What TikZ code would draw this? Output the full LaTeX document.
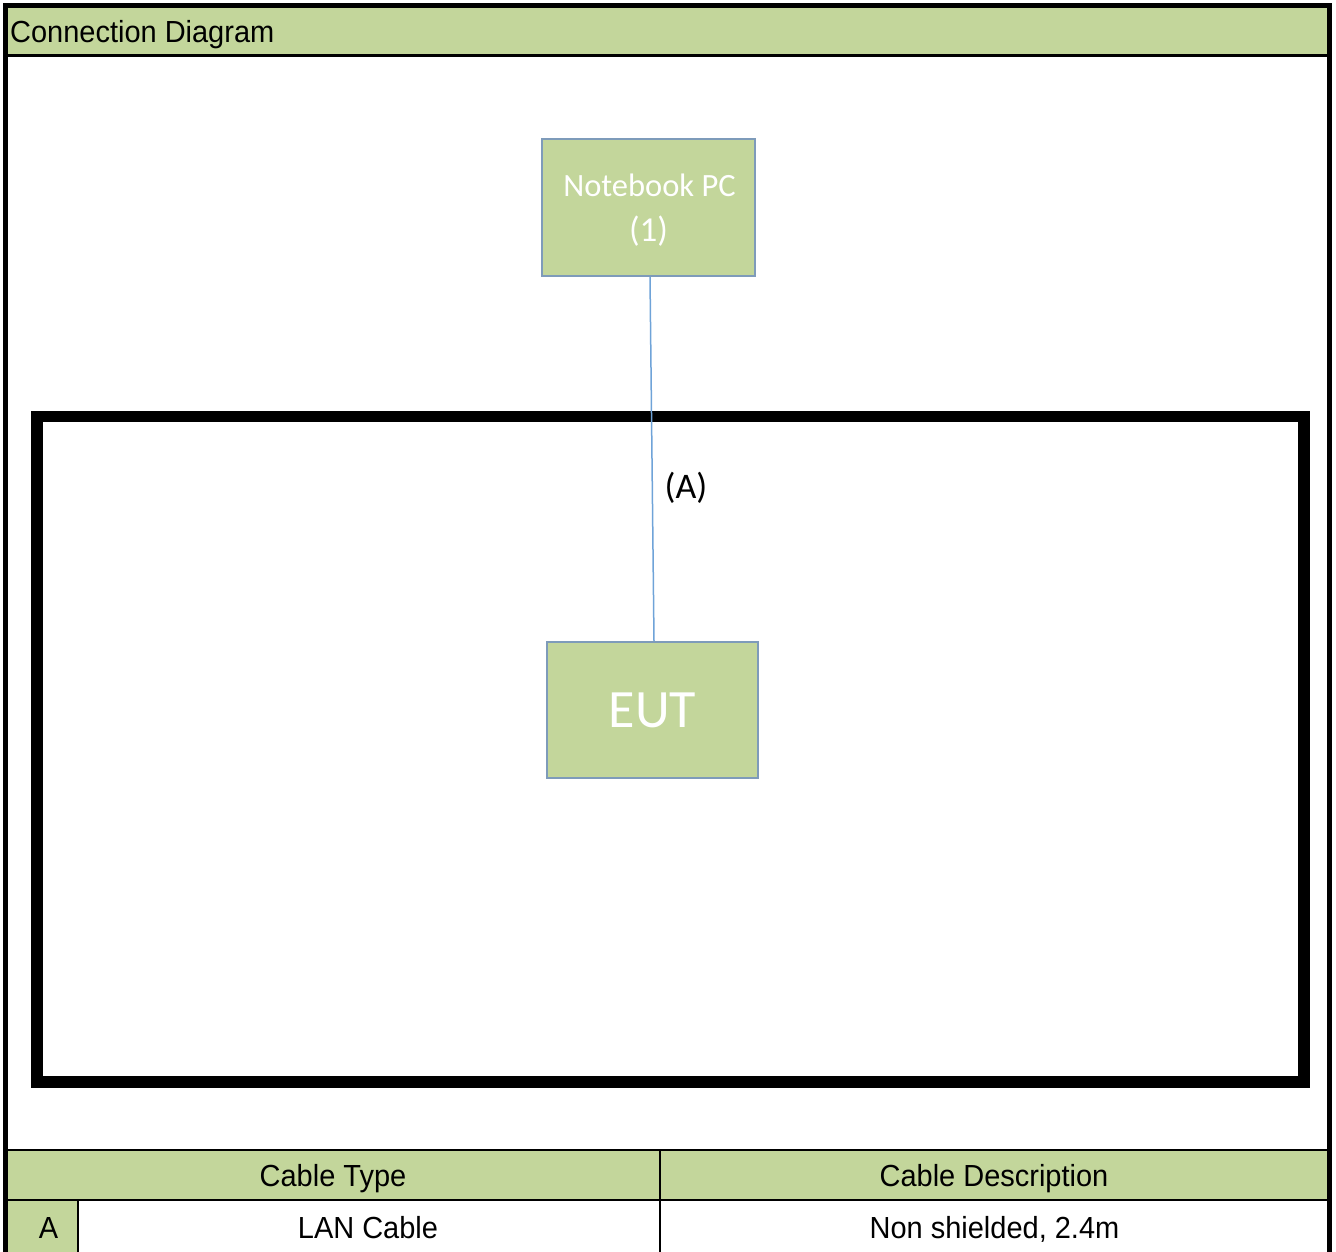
\documentclass[tikz,border=0pt]{standalone}
\usepackage{fontspec}
\usepackage{graphicx}
\setmainfont{Liberation Sans}
\newfontfamily\calfont{Carlito}
\definecolor{hdrgreen}{HTML}{C3D69B}
\definecolor{boxedge}{HTML}{7E9BBA}
\definecolor{cable}{HTML}{6FA3D8}
\tikzset{
  devbox/.style={draw=boxedge, line width=2pt, fill=hdrgreen, text=white, align=center, inner sep=0pt},
  frameline/.style={line width=5pt, draw=black},
  tblline/.style={line width=2.5pt, draw=black},
  celltext/.style={inner sep=0pt, text=black, anchor=base},
}
\newcommand{\celltxt}[1]{\scalebox{0.95}[1]{\fontsize{30.5}{34}\selectfont #1}}
\begin{document}
\begin{tikzpicture}[x=1pt,y=-1pt]
\useasboundingbox (0,0) rectangle (1336,1252);
\clip (0,0) rectangle (1336,1252);
% header fill
\fill[hdrgreen] (5.5,5.5) rectangle (1329.5,55.5);
% table fills
\fill[hdrgreen] (5.5,1150) rectangle (1329.5,1200);
\fill[hdrgreen] (5.5,1200) rectangle (78,1260);
% outer frame
\draw[frameline] (5.5,1270) -- (5.5,5.5) -- (1329.5,5.5) -- (1329.5,1270);
\draw[line width=3pt] (5.5,55.5) -- (1329.5,55.5);
% table lines
\draw[tblline] (5.5,1150) -- (1329.5,1150);
\draw[tblline] (5.5,1200) -- (1329.5,1200);
\draw[tblline] (660,1150) -- (660,1260);
\draw[tblline] (78,1200) -- (78,1260);
% header text
\node[celltext, anchor=base west] (title) at (10,42.5) {\celltxt{Connection Diagram}};
% table text
\node[celltext] (ctype) at (333,1186) {\celltxt{Cable Type}};
\node[celltext] (cdesc) at (994,1186) {\celltxt{Cable Description}};
\node[celltext] (ca) at (48.5,1238) {\celltxt{A}};
\node[celltext] (clan) at (368,1238) {\celltxt{LAN Cable}};
\node[celltext] (cnon) at (994.5,1238) {\celltxt{Non shielded, 2.4m}};
% inner thick rectangle
\draw[line width=11.5pt] (37,416.5) rectangle (1304,1082);
% devices
\node[devbox, minimum width=213pt, minimum height=137pt] (nb) at (648.5,207.5) {};
\node[inner sep=0pt, anchor=base, text=white, font=\calfont\fontsize{32.5}{43}\selectfont] (nbname) at (649.5,197) {Notebook PC};
\node[inner sep=0pt, anchor=base, text=white, font=\calfont\fontsize{35}{43}\selectfont] (nbnum) at (648.5,241) {(1)};
\node[devbox, minimum width=211pt, minimum height=136pt, font=\calfont\fontsize{54}{60}\selectfont] (eut) at (652.5,710) {EUT};
% cable
\draw[cable, line width=1.5pt] ([xshift=1.5pt]nb.south) -- ([xshift=1.5pt]eut.north);
\node[inner sep=0pt, font=\calfont\fontsize{36}{40}\selectfont] (lblA) at (686,488) {(A)};
\end{tikzpicture}
\end{document}
